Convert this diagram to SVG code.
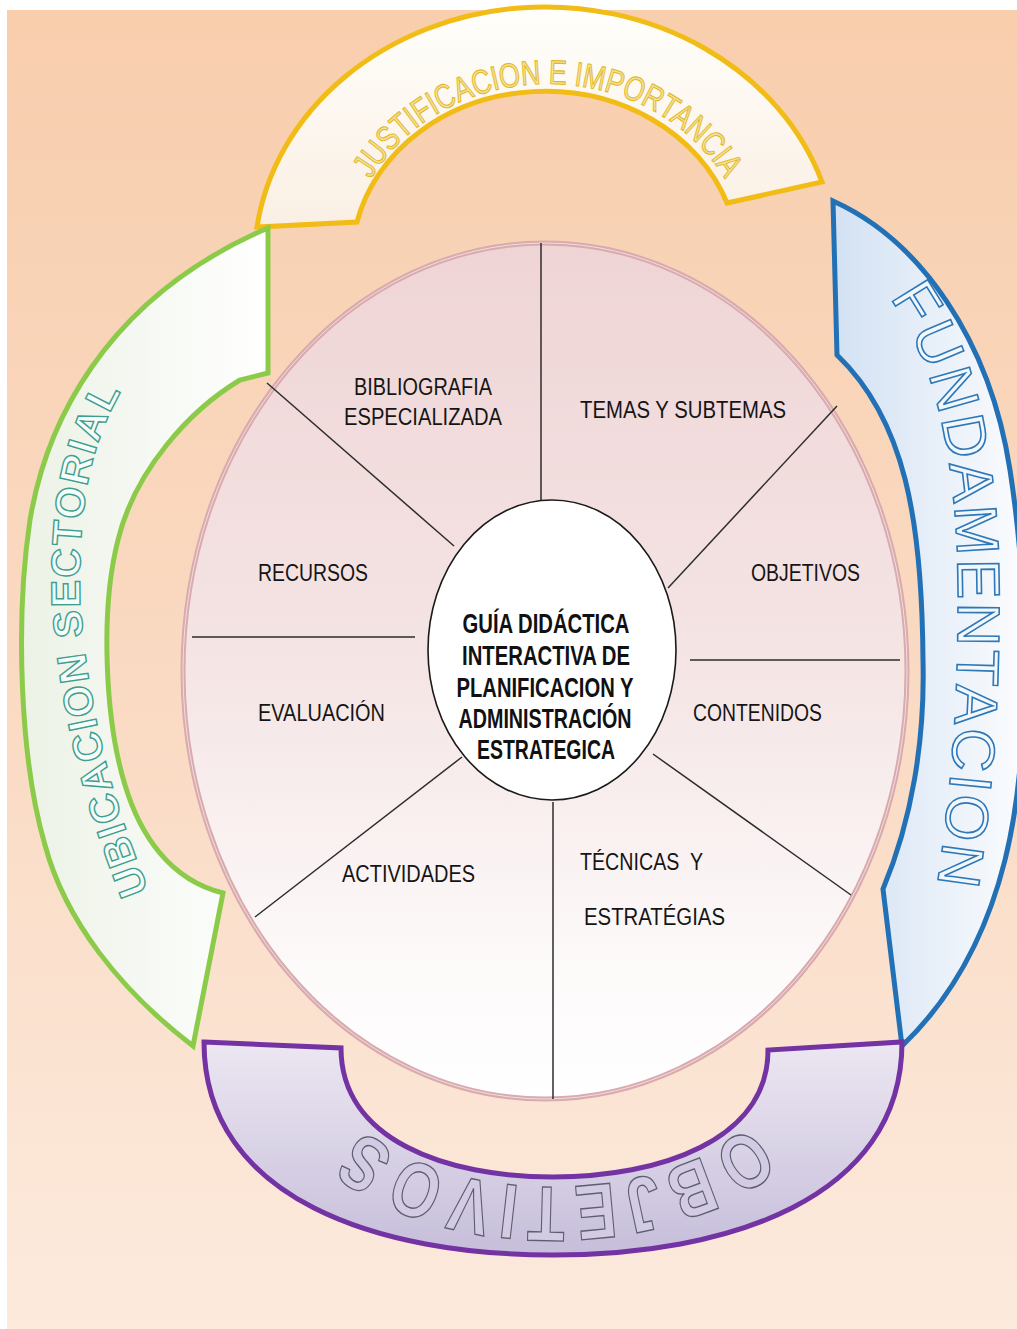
<svg xmlns="http://www.w3.org/2000/svg" width="1017" height="1329" viewBox="0 0 1017 1329">
<style>
.lbl{font-family:"Liberation Sans",Arial,sans-serif;font-size:23px;fill:#151515}
.ctr{font-family:"Liberation Sans",Arial,sans-serif;font-size:27px;font-weight:bold;fill:#111;text-anchor:middle}
.div{stroke:#2d2d2d;stroke-width:1.5;fill:none}
.band{stroke-width:5;stroke-linejoin:miter}
.ty{font-family:"Liberation Sans",Arial,sans-serif;font-size:34px;fill:#F4E39A;stroke:#E3B826;stroke-width:1.1}
.tg{font-family:"Liberation Sans",Arial,sans-serif;font-size:41px;font-weight:bold;fill:#F6FCF9;stroke:#3E9F90;stroke-width:1.4}
.tb{font-family:"Liberation Sans",Arial,sans-serif;font-size:60px;fill:#F2F7FC;stroke:#2F78B8;stroke-width:1.6}
.tp{font-family:"Liberation Sans",Arial,sans-serif;font-size:78px;font-weight:bold;fill:#D3CBE4;stroke:#5E5E6E;stroke-width:1.4}
</style>
<defs>
<linearGradient id="bg" x1="0" y1="0" x2="0" y2="1">
<stop offset="0" stop-color="#F8CEAD"/><stop offset="0.55" stop-color="#FADBC4"/><stop offset="1" stop-color="#FCEADD"/>
</linearGradient>
<linearGradient id="gy" x1="0" y1="0" x2="0" y2="1"><stop offset="0" stop-color="#FFFFFB"/><stop offset="1" stop-color="#FAEFE4"/></linearGradient>
<linearGradient id="gg" x1="0" y1="0" x2="1" y2="0"><stop offset="0" stop-color="#ECF2E6"/><stop offset="1" stop-color="#FFFFFF"/></linearGradient>
<linearGradient id="gb" x1="0" y1="0" x2="1" y2="0"><stop offset="0" stop-color="#D2E1F3"/><stop offset="1" stop-color="#FBFCFE"/></linearGradient>
<linearGradient id="gp" x1="0" y1="0" x2="0" y2="1"><stop offset="0" stop-color="#ECE7F2"/><stop offset="1" stop-color="#C6BEDA"/></linearGradient>
<linearGradient id="gm" x1="0" y1="0" x2="0" y2="1"><stop offset="0" stop-color="#EFD4D5"/><stop offset="0.5" stop-color="#F5E5E5"/><stop offset="0.85" stop-color="#FDFAFA"/><stop offset="1" stop-color="#FFFFFF"/></linearGradient>
<path id="py" d="M 348 262 A 200 178 0 0 1 748 262"/>
<path id="pg" d="M 152 900 C 125 830, 90 740, 80 600 C 79 520, 85 450, 125 385"/>
<path id="pb" d="M 870 275 C 935 340, 958 460, 958 600 C 958 720, 950 800, 935 900"/>
<path id="pp" d="M 780 1060 A 227 127 0 0 1 326 1060"/>
</defs>
<rect x="0" y="0" width="1017" height="1329" fill="#FFFFFF"/>
<rect x="7" y="10" width="1010" height="1319" fill="url(#bg)"/>

<g id="justificacion">
<path class="band" d="M 257 227 A 291 254 0 0 1 822 182 L 727 203 A 193 168 0 0 0 357 222 Z" fill="url(#gy)" stroke="#F2BC16"/>
<text class="ty"><textPath href="#py" startOffset="50%" text-anchor="middle" textLength="420" lengthAdjust="spacingAndGlyphs">JUSTIFICACION E IMPORTANCIA</textPath></text>
</g>

<g id="ubicacion">
<path class="band" d="M 268 228 L 268 373 L 240 380 C 190 410, 135 470, 118 540 C 100 610, 105 720, 125 785 C 140 835, 170 880, 223 893 L 193 1046 C 120 990, 65 920, 45 845 C 20 760, 15 620, 30 520 C 45 430, 100 300, 268 228 Z" fill="url(#gg)" stroke="#8CCB4A"/>
<text class="tg"><textPath href="#pg" startOffset="10" textLength="515">UBICACION SECTORIAL</textPath></text>
</g>

<g id="fundamentacion">
<path class="band" d="M 833 201 C 920 240, 990 340, 1010 470 C 1030 600, 1030 760, 1005 860 C 985 940, 950 1000, 902 1046 L 883 889 C 912 820, 925 740, 923 660 C 922 520, 905 420, 837 355 Z" fill="url(#gb)" stroke="#2270B5"/>
<text class="tb"><textPath href="#pb" startOffset="30" textLength="600">FUNDAMENTACION</textPath></text>
</g>

<g id="objetivos-banda">
<path class="band" d="M 204 1042 L 341 1048 C 341 1140, 446 1177, 553 1177 C 660 1177, 768 1140, 768 1050 L 902 1042 C 902 1200, 726 1255, 553 1255 C 380 1255, 204 1200, 204 1042 Z" fill="url(#gp)" stroke="#7433A3"/>
<text class="tp" letter-spacing="10"><textPath href="#pp" startOffset="50%" text-anchor="middle" textLength="420" lengthAdjust="spacingAndGlyphs">OBJETIVOS</textPath></text>
</g>

<g id="rueda">
<ellipse cx="545" cy="671" rx="362" ry="428" fill="url(#gm)" stroke="#D9ABAE" stroke-width="5"/>
<ellipse cx="545" cy="671" rx="362" ry="428" fill="none" stroke="#F3DCDC" stroke-width="1"/>
</g>

<g id="connectors">
<line class="div" x1="541" y1="243" x2="541" y2="500"/>
<line class="div" x1="668" y1="588" x2="837" y2="406"/>
<line class="div" x1="690" y1="660" x2="900" y2="660"/>
<line class="div" x1="653" y1="754" x2="851" y2="895"/>
<line class="div" x1="553" y1="802" x2="553" y2="1099"/>
<line class="div" x1="462" y1="757" x2="255" y2="917"/>
<line class="div" x1="192" y1="637" x2="415" y2="637"/>
<line class="div" x1="267" y1="383" x2="454" y2="546"/>
</g>

<g id="centro">
<ellipse cx="552" cy="650" rx="124" ry="150" fill="#FFFFFF" stroke="#1a1a1a" stroke-width="1.6"/>
<text class="ctr" x="546" y="633" textLength="167" lengthAdjust="spacingAndGlyphs">GUÍA DIDÁCTICA</text>
<text class="ctr" x="546" y="665" textLength="168" lengthAdjust="spacingAndGlyphs">INTERACTIVA DE</text>
<text class="ctr" x="545" y="697" textLength="177" lengthAdjust="spacingAndGlyphs">PLANIFICACION Y</text>
<text class="ctr" x="545" y="728" textLength="173" lengthAdjust="spacingAndGlyphs">ADMINISTRACIÓN</text>
<text class="ctr" x="546" y="759" textLength="138" lengthAdjust="spacingAndGlyphs">ESTRATEGICA</text>
</g>

<g id="bibliografia"><text class="lbl" x="354" y="395" textLength="138" lengthAdjust="spacingAndGlyphs">BIBLIOGRAFIA</text><text class="lbl" x="344" y="425" textLength="158" lengthAdjust="spacingAndGlyphs">ESPECIALIZADA</text></g>
<g id="temas"><text class="lbl" x="580" y="418" textLength="206" lengthAdjust="spacingAndGlyphs">TEMAS Y SUBTEMAS</text></g>
<g id="recursos"><text class="lbl" x="258" y="581" textLength="110" lengthAdjust="spacingAndGlyphs">RECURSOS</text></g>
<g id="objetivos"><text class="lbl" x="751" y="581" textLength="109" lengthAdjust="spacingAndGlyphs">OBJETIVOS</text></g>
<g id="evaluacion"><text class="lbl" x="258" y="721" textLength="127" lengthAdjust="spacingAndGlyphs">EVALUACIÓN</text></g>
<g id="contenidos"><text class="lbl" x="693" y="721" textLength="129" lengthAdjust="spacingAndGlyphs">CONTENIDOS</text></g>
<g id="actividades"><text class="lbl" x="342" y="882" textLength="133" lengthAdjust="spacingAndGlyphs">ACTIVIDADES</text></g>
<g id="tecnicas"><text class="lbl" x="580" y="870" xml:space="preserve" textLength="123" lengthAdjust="spacingAndGlyphs">TÉCNICAS  Y</text><text class="lbl" x="584" y="925" textLength="141" lengthAdjust="spacingAndGlyphs">ESTRATÉGIAS</text></g>
</svg>
